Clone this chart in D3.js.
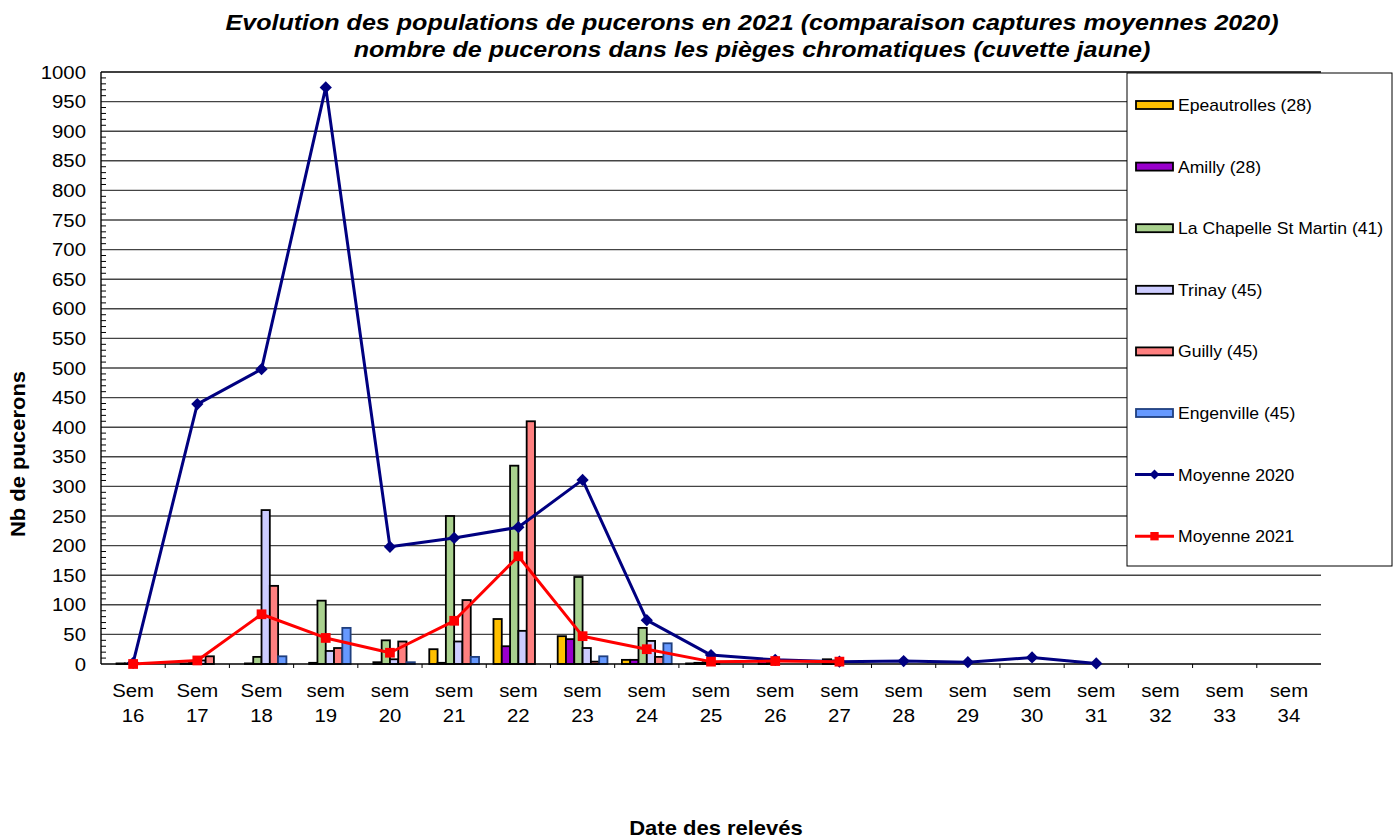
<!DOCTYPE html>
<html>
<head>
<meta charset="utf-8">
<script src="https://cdn.jsdelivr.net/npm/d3@7/dist/d3.min.js"></script>
<style>
  html, body { margin: 0; padding: 0; background: #fff; }
  svg { display: block; font-family: "Liberation Sans", Arial, sans-serif; }
</style>
</head>
<body>
<svg id="chart" width="1400" height="840"></svg>
<script>
// ---------- DATA ----------
const categories = ["Sem 16","Sem 17","Sem 18","sem 19","sem 20","sem 21","sem 22","sem 23","sem 24","sem 25","sem 26","sem 27","sem 28","sem 29","sem 30","sem 31","sem 32","sem 33","sem 34"];
const seriesNames = ["Epeautrolles (28)","Amilly (28)","La Chapelle St Martin (41)","Trinay (45)","Guilly (45)","Engenville (45)"];
const epeautrolles = [0, 0, 0, 0, 0, 25, 76, 47, 7, 1, 0, 0, null, null, null, null, null, null, null];
const amilly       = [1, 1, 1, 2, 3, 2, 30, 42, 7, 2, 8, 8, null, null, null, null, null, null, null];
const laChapelle   = [1, 2, 12, 107, 40, 250, 335, 147, 61, 3, 3, 6, null, null, null, null, null, null, null];
const trinay       = [0, 6, 260, 22, 8, 38, 56, 27, 39, 1, 0, 0, null, null, null, null, null, null, null];
const guilly       = [0, 13, 132, 27, 38, 108, 410, 4, 12, 0, 0, 0, null, null, null, null, null, null, null];
const engenville   = [0, 0, 13, 61, 3, 12, 0, 13, 35, 0, 0, 0, null, null, null, null, null, null, null];
const moyenne2020  = [2, 439, 498, 974, 198, 213, 231, 311, 74, 15, 7, 4, 5, 3, 11, 1, null, null, null];
const moyenne2021  = [0, 6, 84, 44, 19, 73, 182, 47, 25, 4, 5, 4, null, null, null, null, null, null, null];
const yTicks = d3.range(0, 1001, 50);
const titleLines = ["Evolution des populations de pucerons en 2021 (comparaison captures moyennes 2020)",
                    "nombre de pucerons dans les pièges chromatiques (cuvette jaune)"];
const yTitle = "Nb de pucerons";
const xTitle = "Date des relevés";

const barSeries = [epeautrolles, amilly, laChapelle, trinay, guilly, engenville];
const barColors = ["#FFC000", "#9900CC", "#A9D18E", "#CCCCFF", "#FF8080", "#6699FF"];
const barStrokes = ["#000", "#000", "#000", "#000", "#000", "#1f3f7f"];

// ---------- LAYOUT ----------
const svg = d3.select("#chart");
const L = 101, R = 1321, T = 72, B = 664;
const SX = 1.1; // horizontal text stretch

const x0 = d3.scaleBand().domain(categories).range([L, R]).padding(0);
const x1 = d3.scaleBand().domain(seriesNames).range([0, x0.bandwidth()]).paddingInner(0).paddingOuter(0.87);
const y = d3.scaleLinear().domain([0, 1000]).range([B, T]);

function stretched(sel, x, yy, rot) {
  return sel.attr("transform", (d, i) => {
    const xv = typeof x === "function" ? x(d, i) : x;
    const yv = typeof yy === "function" ? yy(d, i) : yy;
    return `translate(${xv},${yv})${rot ? " rotate(" + rot + ")" : ""} scale(${SX},1)`;
  });
}

// gridlines
svg.append("g").selectAll("line").data(yTicks.filter(d => d > 0)).join("line")
  .attr("x1", L).attr("x2", R)
  .attr("y1", d => y(d)).attr("y2", d => y(d))
  .attr("stroke", d => d === 1000 ? "#000" : "#444").attr("stroke-width", 1.4);

// minor ticks (every 10)
svg.append("g").selectAll("line").data(d3.range(0, 1000, 10).filter(d => d % 50 !== 0)).join("line")
  .attr("x1", L).attr("x2", L + 5)
  .attr("y1", d => y(d)).attr("y2", d => y(d))
  .attr("stroke", "#000").attr("stroke-width", 1);

// y axis line
svg.append("line").attr("x1", L).attr("x2", L).attr("y1", T).attr("y2", B)
  .attr("stroke", "#000").attr("stroke-width", 1.4);

// y tick labels
stretched(svg.append("g").selectAll("text").data(yTicks).join("text"), L - 15, d => y(d) + 6.5)
  .attr("text-anchor", "end").attr("font-size", 18.5).attr("fill", "#000")
  .text(d => d);

// bars
const barG = svg.append("g");
barSeries.forEach((vals, si) => {
  barG.append("g").selectAll("rect")
    .data(vals.map((v, i) => ({ v, c: categories[i] })).filter(d => d.v !== null))
    .join("rect")
    .attr("x", d => x0(d.c) + x1(seriesNames[si]))
    .attr("width", x1.bandwidth())
    .attr("y", d => y(d.v))
    .attr("height", d => B - y(d.v))
    .attr("fill", barColors[si])
    .attr("stroke", barStrokes[si]).attr("stroke-width", 1.8);
});

// x axis line + ticks
svg.append("line").attr("x1", L).attr("x2", R).attr("y1", B).attr("y2", B)
  .attr("stroke", "#000").attr("stroke-width", 1.4);
svg.append("g").selectAll("line").data(categories.slice(1)).join("line")
  .attr("x1", d => x0(d)).attr("x2", d => x0(d))
  .attr("y1", B).attr("y2", B + 4)
  .attr("stroke", "#000").attr("stroke-width", 1);

// x labels
const cx = c => x0(c) + x0.bandwidth() / 2;
const xl = svg.append("g").selectAll("g").data(categories).join("g");
stretched(xl.append("text"), d => cx(d), 697).attr("text-anchor", "middle").attr("font-size", 18.5).text(d => d.split(" ")[0]);
stretched(xl.append("text"), d => cx(d), 722).attr("text-anchor", "middle").attr("font-size", 18.5).text(d => d.split(" ")[1]);

// lines
function drawLine(vals, color, markerType, size) {
  const pts = vals.map((v, i) => ({ v, c: categories[i] })).filter(d => d.v !== null);
  svg.append("path").datum(pts)
    .attr("fill", "none").attr("stroke", color).attr("stroke-width", 3)
    .attr("stroke-linejoin", "round")
    .attr("d", d3.line().x(d => cx(d.c)).y(d => y(d.v)));
  svg.append("g").selectAll("path").data(pts).join("path")
    .attr("transform", d => `translate(${cx(d.c)},${y(d.v)})${markerType === "diamond" ? " rotate(45)" : ""}`)
    .attr("d", d3.symbol().type(d3.symbolSquare).size(size))
    .attr("fill", color);
}
drawLine(moyenne2020, "#000080", "diamond", 75);
drawLine(moyenne2021, "#FF0000", "square", 95);

// titles
stretched(svg.append("g").selectAll("text").data(titleLines).join("text"), 752, (d, i) => 30 + i * 27)
  .attr("text-anchor", "middle").attr("font-size", 22.8)
  .attr("font-weight", "bold").attr("font-style", "italic").attr("fill", "#000")
  .text(d => d);

svg.append("text")
  .attr("transform", `translate(25,454) rotate(-90) scale(${SX},1)`)
  .attr("text-anchor", "middle").attr("font-size", 20).attr("font-weight", "bold")
  .text(yTitle);

svg.append("text")
  .attr("transform", `translate(716,835) scale(${SX},1)`)
  .attr("text-anchor", "middle").attr("font-size", 20).attr("font-weight", "bold")
  .text(xTitle);

// legend
const lg = svg.append("g");
lg.append("rect").attr("x", 1127).attr("y", 73).attr("width", 265).attr("height", 493)
  .attr("fill", "#fff").attr("stroke", "#000").attr("stroke-width", 1);
const legendItems = seriesNames.map((n, i) => ({ name: n, type: "bar", color: barColors[i], stroke: barStrokes[i] }))
  .concat([{ name: "Moyenne 2020", type: "line", color: "#000080", marker: "diamond" },
           { name: "Moyenne 2021", type: "line", color: "#FF0000", marker: "square" }]);
legendItems.forEach((it, i) => {
  const yy = 105 + i * 61.6;
  if (it.type === "bar") {
    lg.append("rect").attr("x", 1136).attr("y", yy - 4).attr("width", 37).attr("height", 8)
      .attr("fill", it.color).attr("stroke", it.stroke).attr("stroke-width", 1.8);
  } else {
    lg.append("line").attr("x1", 1135).attr("x2", 1174).attr("y1", yy).attr("y2", yy)
      .attr("stroke", it.color).attr("stroke-width", 3);
    lg.append("path")
      .attr("transform", `translate(1154.5,${yy})${it.marker === "diamond" ? " rotate(45)" : ""}`)
      .attr("d", d3.symbol().type(d3.symbolSquare).size(it.marker === "diamond" ? 50 : 70))
      .attr("fill", it.color);
  }
  lg.append("text").attr("transform", `translate(1178,${yy + 6}) scale(${SX},1)`)
    .attr("font-size", 16).attr("fill", "#000")
    .text(it.name);
});
</script>
</body>
</html>
